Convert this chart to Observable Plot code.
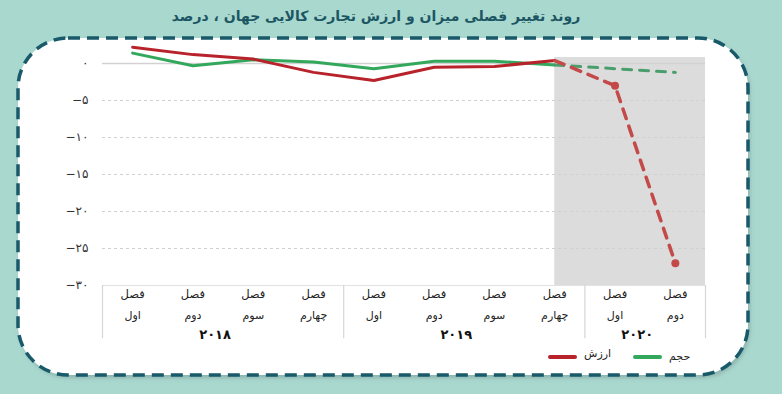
<!DOCTYPE html>
<html>
<head>
<meta charset="utf-8">
<script src="https://cdn.jsdelivr.net/npm/d3@7"></script>
<script src="https://cdn.jsdelivr.net/npm/@observablehq/plot@0.6"></script>
<style>
  html, body { margin: 0; padding: 0; background: #a9d8cf; }
  #wrap { position: relative; width: 782px; height: 394px; overflow: hidden; font-family: "DejaVu Sans", sans-serif; }
  #deco { position: absolute; left: 0; top: 0; }
  #title { position: absolute; left: 0; width: 752px; top: 8px; text-align: center; direction: rtl;
           font-weight: bold; font-size: 14px; color: #1d5663; }
  #chart { position: absolute; left: 0; top: 0; }
  .leg { position: absolute; font-size: 11px; color: #222; direction: rtl; }
  .sw { position: absolute; height: 4px; width: 29px; border-radius: 2px; }
</style>
</head>
<body>
<div id="wrap">
  <svg id="deco" width="782" height="394">
    <defs>
      <filter id="sh" x="-5%" y="-5%" width="110%" height="115%">
        <feDropShadow dx="2" dy="3" stdDeviation="2" flood-color="#6f8f8a" flood-opacity="0.5"/>
      </filter>
    </defs>
    <rect x="18" y="38" width="730" height="337" rx="50" ry="50" fill="#ffffff" filter="url(#sh)"/>
    <rect x="18" y="38" width="730" height="337" rx="50" ry="50" fill="none" stroke="#18596a" stroke-width="3.5" stroke-dasharray="12 7"/>
  </svg>
  <div id="title">روند تغییر فصلی میزان و ارزش تجارت کالایی جهان ، درصد</div>
  <div id="chart"></div>
  <div class="sw" style="left:548px; top:355px; background:#b8232b"></div>
  <div class="leg" style="left:584px; top:347px;">ارزش</div>
  <div class="sw" style="left:633px; top:355px; background:#33a85c"></div>
  <div class="leg" style="left:669px; top:350px;">حجم</div>
</div>
<script>
// ---- data ----
const quarterWords = ["اول", "دوم", "سوم", "چهارم", "اول", "دوم", "سوم", "چهارم", "اول", "دوم"];
const quarterYear = [0, 0, 0, 0, 1, 1, 1, 1, 2, 2];
const yearLabels = ["۲۰۱۸", "۲۰۱۹", "۲۰۲۰"];
const valueSeries = [2.2, 1.2, 0.6, -1.2, -2.3, -0.5, -0.4, 0.4, -3.0, -27.0];   // ارزش
const volumeSeries = [1.4, -0.3, 0.5, 0.2, -0.7, 0.3, 0.3, -0.2, -0.7, -1.2];    // حجم
const yTicks = [0, -5, -10, -15, -20, -25, -30];
const forecastStart = 7;   // index where the dashed (estimate) part begins
const shadeTop = 0.8;

// ---- helpers ----
const toFa = s => String(s).replace(/\d/g, d => "۰۱۲۳۴۵۶۷۸۹"[d]);
const fmtY = d => (d < 0 ? "−" : "") + toFa(Math.abs(d));

const rows = quarterWords.map((q, i) => ({ i, q, year: quarterYear[i], value: valueSeries[i], volume: volumeSeries[i] }));
const n = rows.length;
const yearGroups = yearLabels.map((label, k) => {
  const idx = rows.filter(r => r.year === k).map(r => r.i);
  return { label, center: (d3.min(idx) + d3.max(idx)) / 2, lo: d3.min(idx) - 0.5, hi: d3.max(idx) + 0.5 };
});
const separators = Array.from(new Set(yearGroups.flatMap(g => [g.lo, g.hi])));

const faFont = "DejaVu Sans, sans-serif";
const red = "#b8232b", redDash = "#c44a4a", green = "#33a85c", greenDash = "#4a9e6d";

const chart = Plot.plot({
  width: 782,
  height: 394,
  marginLeft: 102,
  marginRight: 77,
  marginTop: 63,
  marginBottom: 109,
  style: { background: "transparent", overflow: "visible", fontFamily: faFont },
  x: { type: "linear", domain: [-0.5, n - 0.5], axis: null },
  y: { type: "linear", domain: [-30, 0], axis: null },
  marks: [
    // forecast shading
    Plot.rect([{ x1: forecastStart, x2: n - 0.5, y1: -30, y2: shadeTop }], { x1: "x1", x2: "x2", y1: "y1", y2: "y2", fill: "#dcdcdc" }),
    // grid
    Plot.ruleY(yTicks.filter(d => d !== 0), { x1: -0.5, x2: n - 0.5, stroke: "#d0d0d0", strokeWidth: 1.2, strokeDasharray: "3,3" }),
    Plot.ruleY([0], { x1: -0.5, x2: n - 0.5, stroke: "#d2d2d2", strokeWidth: 1.5 }),
    // y tick labels
    Plot.text(yTicks, { x: -0.5, y: d => d, text: fmtY, textAnchor: "end", dx: -14, fontSize: 12, fill: "#333", fontFamily: faFont }),
    // category box
    Plot.ruleY([-30], { x1: -0.5, x2: n - 0.5, stroke: "#e2e2e2" }),
    Plot.ruleX(separators, { y1: -30, y2: -37.2, stroke: "#d6d6d6", strokeWidth: 1.2 }),
    Plot.text(rows, { x: "i", frameAnchor: "bottom", text: () => "فصل", dy: 12, fontSize: 11.5, fill: "#222", fontFamily: faFont }),
    Plot.text(rows, { x: "i", frameAnchor: "bottom", text: "q", dy: 33, fontSize: 11, fill: "#222", fontFamily: faFont }),
    Plot.text(yearGroups, { x: "center", frameAnchor: "bottom", text: "label", dy: 53, dx: -8, fontSize: 13, fontWeight: "bold", fill: "#111", fontFamily: faFont }),
    // volume (green)
    Plot.line(rows.slice(0, forecastStart + 1), { x: "i", y: "volume", stroke: green, strokeWidth: 3 }),
    Plot.line(rows.slice(forecastStart), { x: "i", y: "volume", stroke: greenDash, strokeWidth: 3, strokeDasharray: "9,8" }),
    // value (red)
    Plot.line(rows.slice(0, forecastStart + 1), { x: "i", y: "value", stroke: red, strokeWidth: 3 }),
    Plot.line(rows.slice(forecastStart), { x: "i", y: "value", stroke: redDash, strokeWidth: 3.5, strokeDasharray: "10,8" }),
    Plot.dot(rows.slice(forecastStart + 1), { x: "i", y: "value", r: 4, fill: redDash, stroke: "none" })
  ]
});
document.getElementById("chart").appendChild(chart);
</script>
</body>
</html>
